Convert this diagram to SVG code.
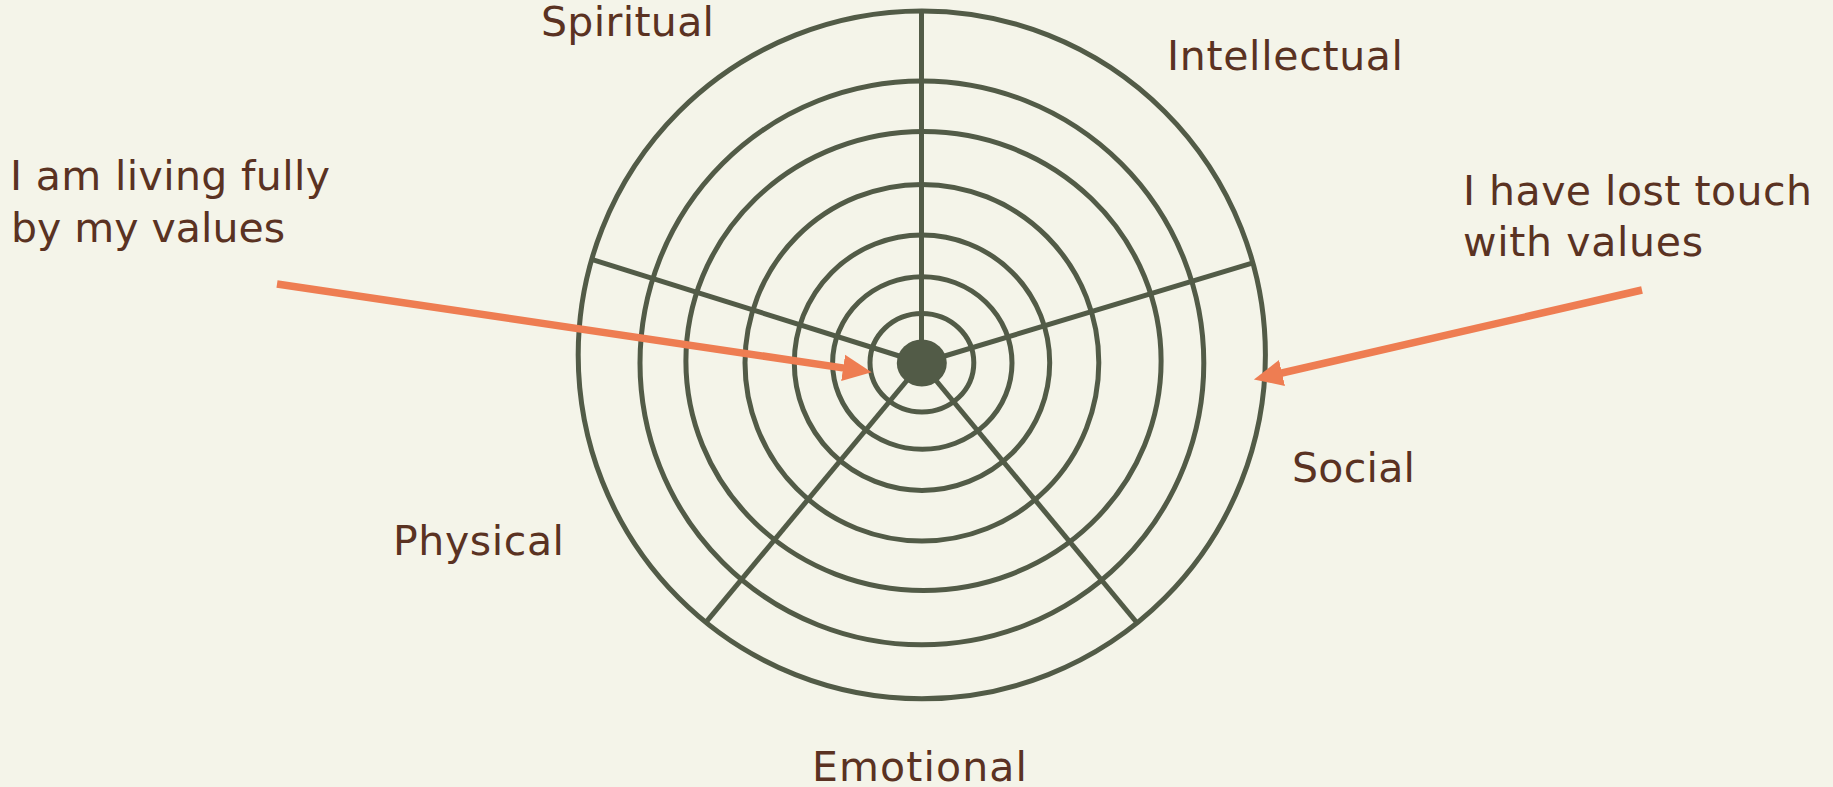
<svg xmlns="http://www.w3.org/2000/svg" width="1833" height="787" viewBox="0 0 1833 787">
  <style>
    .ring { fill: none; stroke: #525b47; stroke-width: 5; }
    .spoke { stroke: #525b47; stroke-width: 5; stroke-linecap: butt; }
    .label { font-family: "DejaVu Sans", "Liberation Sans", sans-serif; font-size: 41px; fill: #5a3222; }
    .arrow { stroke: #ee7d52; stroke-width: 7.5; fill: none; }
  </style>
  <defs>
    <marker id="head" markerUnits="userSpaceOnUse" markerWidth="30" markerHeight="30" refX="4" refY="0" viewBox="0 -12 26 24" orient="auto">
      <path d="M0,-11.5 L25,0 L0,11.5 Z" fill="#ee7d52"/>
    </marker>
  </defs>
  <rect width="1833" height="787" fill="#f4f4e9"/>

  <g id="wheel">
    <ellipse class="ring" cx="921.8" cy="354.9" rx="343.6" ry="343.9"/>
    <ellipse class="ring" cx="921.9" cy="362.9" rx="281.9" ry="281.9"/>
    <ellipse class="ring" cx="923.5" cy="361" rx="237.6" ry="229.4"/>
    <ellipse class="ring" cx="921.9" cy="362.7" rx="176.9" ry="178.3"/>
    <ellipse class="ring" cx="922" cy="362.7" rx="127.7" ry="127.7"/>
    <ellipse class="ring" cx="922.3" cy="363" rx="89.7" ry="86.3"/>
    <ellipse class="ring" cx="921.9" cy="362.7" rx="51.9" ry="49.3"/>
    <line class="spoke" x1="921.5" y1="363" x2="921.5" y2="11"/>
    <line class="spoke" x1="921.5" y1="363" x2="591.7" y2="259.3"/>
    <line class="spoke" x1="921.5" y1="363" x2="1251.3" y2="263.3"/>
    <line class="spoke" x1="921.5" y1="363" x2="706.7" y2="621.3"/>
    <line class="spoke" x1="921.5" y1="363" x2="1136.3" y2="622"/>
    <ellipse cx="921.8" cy="363" rx="25" ry="23.5" fill="#525b47"/>
  </g>

  <g id="label-spiritual"><text class="label" x="541" y="36" textLength="173">Spiritual</text></g>
  <g id="label-intellectual"><text class="label" x="1167" y="70" textLength="236">Intellectual</text></g>
  <g id="label-social"><text class="label" x="1292" y="481.6" textLength="123">Social</text></g>
  <g id="label-physical"><text class="label" x="393" y="555" textLength="171">Physical</text></g>
  <g id="label-emotional"><text class="label" x="812" y="781" textLength="215">Emotional</text></g>

  <g id="note-living">
    <text class="label" x="10" y="190" textLength="320">I am living fully</text>
    <text class="label" x="11" y="241.7" textLength="274">by my values</text>
  </g>
  <g id="note-lost">
    <text class="label" x="1463" y="205" textLength="349">I have lost touch</text>
    <text class="label" x="1463" y="256" textLength="240">with values</text>
  </g>

  <g id="connectors">
    <line class="arrow" x1="277" y1="284" x2="847.7" y2="368.6" marker-end="url(#head)"/>
    <line class="arrow" x1="1642" y1="290" x2="1277.5" y2="374" marker-end="url(#head)"/>
  </g>
</svg>
